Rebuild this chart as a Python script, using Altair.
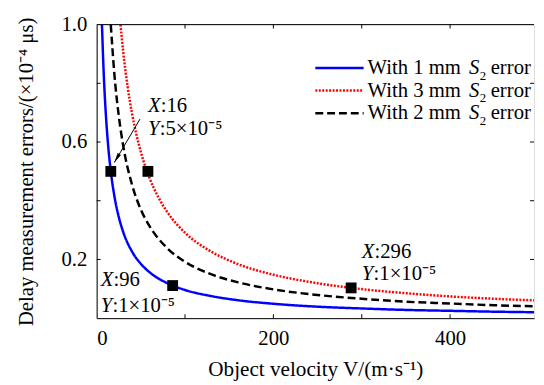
import altair as alt
import pandas as pd

FONT = "Liberation Serif"
FS = 21

# ---- data ----
S1 = "1 mm"
S3 = "3 mm"
S2 = "2 mm"

v_1mm = [6, 8, 10, 12, 16, 20, 25, 30, 40, 50, 60, 80, 100, 130, 160, 200, 250, 300, 350, 400, 450, 500]
y_1mm = [1.0, 0.833, 0.714, 0.625, 0.5, 0.417, 0.345, 0.294, 0.227, 0.185, 0.156, 0.119, 0.096, 0.075,
         0.061, 0.049, 0.039, 0.033, 0.028, 0.025, 0.022, 0.020]

v_2mm = [16, 20, 25, 30, 40, 50, 60, 80, 100, 130, 160, 200, 250, 300, 350, 400, 450, 500]
y_2mm = [1.0, 0.833, 0.690, 0.588, 0.455, 0.370, 0.313, 0.238, 0.192, 0.149, 0.122, 0.098, 0.079,
         0.066, 0.056, 0.050, 0.044, 0.040]

v_3mm = [27, 30, 35, 40, 50, 60, 70, 80, 100, 130, 160, 200, 250, 300, 350, 400, 450, 500]
y_3mm = [1.0, 0.909, 0.789, 0.698, 0.566, 0.476, 0.411, 0.361, 0.291, 0.226, 0.184, 0.148, 0.119,
         0.099, 0.085, 0.074, 0.066, 0.060]

marker_x = [16, 58, 86, 288]
marker_y = [0.5, 0.5, 0.111, 0.103]

x_labels = [0, 200, 400]
y_labels = [0.2, 0.6, 1.0]
x_minor = [100, 200, 300, 400]
y_minor = [0.2, 0.4, 0.6, 0.8]

X_MAX = 495

annX_x = [58, 4.5, 300]
annX_y = [0.721, 0.131, 0.225]
annX_val = [":16", ":96", ":296"]
annY_x = [58, 4.5, 300]
annY_y = [0.644, 0.040, 0.151]
annY_val = [":5\u00d710\u207b\u2075", ":1\u00d710\u207b\u2075", ":1\u00d710\u207b\u2075"]

arrow_x = [49, 20]
arrow_y = [0.678, 0.530]

legend_series = [S1, S3, S2]
legend_text = ["With 1 mm", "With 3 mm", "With 2 mm"]
colors = ["#0000ff", "#ff0000", "#000000"]
dashes = [[1, 0], [2, 1.5], [8, 4]]

x_title = "Object velocity V/(m\u00b7s\u207b\u00b9)"
y_title = "Delay measurement errors/(\u00d710\u207b\u2074 \u03bcs)"

# ---- tables ----
curves = pd.concat([
    pd.DataFrame({"v": v_1mm, "e": y_1mm, "s": S1}),
    pd.DataFrame({"v": v_3mm, "e": y_3mm, "s": S3}),
    pd.DataFrame({"v": v_2mm, "e": y_2mm, "s": S2}),
])
markers = pd.DataFrame({"v": marker_x, "e": marker_y})
annX = pd.DataFrame({"v": annX_x, "e": annX_y, "t": "X", "val": annX_val})
annY = pd.DataFrame({"v": annY_x, "e": annY_y, "t": "Y", "val": annY_val})
arrow = pd.DataFrame({"v": arrow_x, "e": arrow_y, "o": [0, 1]})
xt = pd.DataFrame({"v": x_minor})
yt = pd.DataFrame({"e": y_minor})
one = pd.DataFrame({"a": [0]})

xs = alt.Scale(domain=[0, X_MAX], nice=False, zero=False)
ys = alt.Scale(domain=[0, 1], nice=False, zero=False)

x_axis = alt.Axis(values=x_labels, ticks=False, grid=False, labelFontSize=FS, labelPadding=10,
                  title=x_title, titleFontSize=21.5, titlePadding=10, titleFontWeight="normal",
                  domainColor="black", labelColor="black", titleColor="black",
                  labelFont=FONT, titleFont=FONT)
y_axis = alt.Axis(values=y_labels, format=".1f", ticks=False, grid=False, labelFontSize=FS, labelPadding=10,
                  title=y_title, titleFontSize=FS,
                  titlePadding=25, titleFontWeight="normal", domainColor="black", labelColor="black",
                  titleColor="black", labelFont=FONT, titleFont=FONT)

lines = alt.Chart(curves).mark_line(strokeWidth=2.5, clip=True, interpolate="monotone", strokeCap="butt").encode(
    x=alt.X("v:Q", scale=xs, axis=x_axis),
    y=alt.Y("e:Q", scale=ys, axis=y_axis),
    color=alt.Color("s:N", scale=alt.Scale(domain=legend_series, range=colors), legend=None),
    strokeDash=alt.StrokeDash("s:N", scale=alt.Scale(domain=legend_series, range=dashes), legend=None),
    detail="s:N",
)

sq = alt.Chart(markers).mark_square(size=121, color="black", filled=True, opacity=1).encode(
    x=alt.X("v:Q", scale=xs), y=alt.Y("e:Q", scale=ys))


def ann_layers(df, dx):
    var_t = alt.Chart(df).mark_text(align="left", baseline="middle", fontSize=FS, font=FONT,
                                    fontStyle="italic", color="black").encode(
        x=alt.X("v:Q", scale=xs), y=alt.Y("e:Q", scale=ys), text="t:N")
    val_t = alt.Chart(df).mark_text(align="left", baseline="middle", fontSize=FS, font=FONT,
                                    color="black", dx=dx).encode(
        x=alt.X("v:Q", scale=xs), y=alt.Y("e:Q", scale=ys), text="val:N")
    return [var_t, val_t]


arrow_line = alt.Chart(arrow).mark_line(color="black", strokeWidth=1).encode(
    x=alt.X("v:Q", scale=xs), y=alt.Y("e:Q", scale=ys), order="o:Q")
arrow_head = alt.Chart(arrow.iloc[[1]]).mark_point(shape="M0,0L0.4,2L-0.4,2Z", size=100, filled=True,
                                                  color="black", opacity=1, angle=210.6).encode(
    x=alt.X("v:Q", scale=xs), y=alt.Y("e:Q", scale=ys))

top_line = alt.Chart(one).mark_rule(color="black", strokeWidth=1).encode(
    x=alt.datum(0, scale=xs), x2=alt.datum(X_MAX), y=alt.datum(1.0, scale=ys))

tick_style = dict(color="black", opacity=1, thickness=1, size=4)
bottom_ticks = alt.Chart(xt).mark_tick(orient="vertical", yOffset=-2, **tick_style).encode(
    x=alt.X("v:Q", scale=xs), y=alt.datum(0, scale=ys))
top_ticks = alt.Chart(xt).mark_tick(orient="vertical", yOffset=2, **tick_style).encode(
    x=alt.X("v:Q", scale=xs), y=alt.datum(1.0, scale=ys))
left_ticks = alt.Chart(yt).mark_tick(orient="horizontal", xOffset=2, **tick_style).encode(
    y=alt.Y("e:Q", scale=ys), x=alt.datum(0, scale=xs))
right_ticks = alt.Chart(yt).mark_tick(orient="horizontal", xOffset=-2, **tick_style).encode(
    y=alt.Y("e:Q", scale=ys), x=alt.datum(X_MAX, scale=xs))

base = alt.Chart(one)


def label_piece(text, x, y, size=FS, italic=False, baseline="middle"):
    kw = dict(fontStyle="italic") if italic else {}
    return base.mark_text(text=text, align="left", baseline=baseline, fontSize=size, font=FONT,
                          color="black", **kw).encode(x=alt.value(x), y=alt.value(y))


# ---- hand-built legend (mixed italic / subscript text) ----
legend_layers = []
for i, (txt, col, dash) in enumerate(zip(legend_text, colors, dashes)):
    yy = 44 + 23 * i
    legend_layers.append(base.mark_rule(color=col, strokeWidth=2.5, strokeDash=dash, strokeCap="butt").encode(
        x=alt.value(222), x2=alt.value(271), y=alt.value(yy)))
    legend_layers.append(label_piece(txt, 275, yy))
    legend_layers.append(label_piece("S", 378, yy, italic=True))
    legend_layers.append(label_piece("2", 389, yy + 8, size=13))
    legend_layers.append(label_piece("error", 400, yy))

chart = alt.layer(
    lines, arrow_line, arrow_head, sq, *ann_layers(annX, 13), *ann_layers(annY, 12),
    top_line, bottom_ticks, top_ticks, left_ticks, right_ticks, *legend_layers,
).properties(
    width=444, height=298,
    autosize=alt.AutoSizeParams(type="none"),
    padding={"left": 90, "top": 14, "right": 2, "bottom": 64},
).configure_view(stroke=None).configure(font=FONT, background="white")

chart.save("out.html", embed_options={"renderer": "svg", "actions": False})
